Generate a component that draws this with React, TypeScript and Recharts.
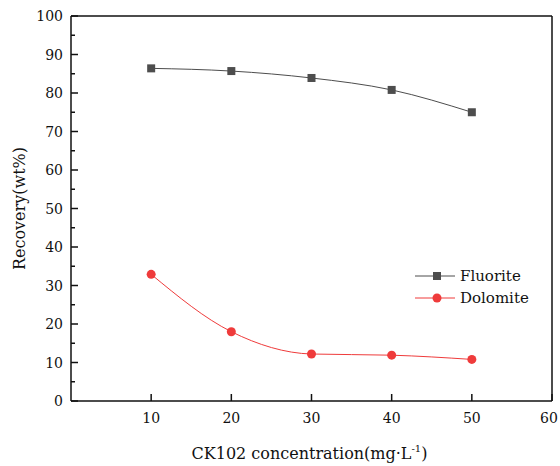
import { Line, LineChart, ReferenceLine, XAxis, YAxis } from "recharts";

const concentrations = [10, 20, 30, 40, 50];
const fluorite = [86.4, 85.7, 83.9, 80.8, 75.0];
const dolomite = [32.9, 18.0, 12.2, 11.9, 10.8];
const xTicks = [10, 20, 30, 40, 50, 60];
const yTicks = [0, 5, 10, 15, 20, 25, 30, 35, 40, 45, 50, 55, 60, 65, 70, 75, 80, 85, 90, 95, 100];

const data = concentrations.map((c, i) => ({
  c,
  fluorite: fluorite[i],
  dolomite: dolomite[i],
}));

const FONT = "DejaVu Serif";
const GRAY = "#4d4d4d";
const RED = "#ef3b3b";
const AXIS_LEFT = 71;
const AXIS_BOTTOM = 401;
const txt = { fontFamily: FONT, fontSize: 15, fill: "#111" };
const tickTxt = { ...txt, fontSize: 14 };

const YTick = (props: any) => {
  const { y, payload } = props;
  const major = payload.value % 10 === 0;
  return (
    <g>
      <line
        x1={AXIS_LEFT}
        x2={AXIS_LEFT + (major ? 7 : 4)}
        y1={y}
        y2={y}
        stroke="#111"
        strokeWidth={1.5}
      />
      {major && (
        <text x={AXIS_LEFT - 8} y={y} dy={5} textAnchor="end" style={tickTxt}>
          {payload.value}
        </text>
      )}
    </g>
  );
};

const XTick = (props: any) => {
  const { x, payload } = props;
  return (
    <g>
      <line
        x1={x}
        x2={x}
        y1={AXIS_BOTTOM}
        y2={AXIS_BOTTOM - 7}
        stroke="#111"
        strokeWidth={1.5}
      />
      <text x={Math.min(x, 549)} y={AXIS_BOTTOM + 22} textAnchor="middle" style={tickTxt}>
        {payload.value}
      </text>
    </g>
  );
};

const XLabel = (props: any) => {
  const { viewBox } = props;
  const cx = viewBox.x + viewBox.width / 2;
  return (
    <text x={cx - 2} y={459} textAnchor="middle" style={{ ...txt, fontSize: 16 }}>
      CK102 concentration(mg·L
      <tspan dy={-7} fontSize={10}>
        -1
      </tspan>
      <tspan dy={7}>)</tspan>
    </text>
  );
};

const YLabel = (props: any) => {
  const { viewBox } = props;
  const cy = viewBox.y + viewBox.height / 2;
  return (
    <text
      x={25}
      y={cy}
      textAnchor="middle"
      transform={`rotate(-90 25 ${cy})`}
      style={{ ...txt, fontSize: 16 }}
    >
      Recovery(wt%)
    </text>
  );
};

const SquareDot = (props: any) => {
  const { cx, cy, index } = props;
  return <rect key={`sq-${index}`} x={cx - 4} y={cy - 4} width={8} height={8} fill={GRAY} />;
};

const RoundDot = (props: any) => {
  const { cx, cy, index } = props;
  return <circle key={`ci-${index}`} cx={cx} cy={cy} r={4.5} fill={RED} />;
};

const LegendBox = () => (
  <svg width={140} height={50} style={{ position: "absolute", left: 411, top: 265 }}>
    <line x1={4} x2={44} y1={11} y2={11} stroke={GRAY} strokeWidth={1} />
    <rect x={22} y={7} width={8} height={8} fill={GRAY} />
    <text x={49} y={16} style={txt}>
      Fluorite
    </text>
    <line x1={4} x2={44} y1={33} y2={33} stroke={RED} strokeWidth={1} />
    <circle cx={26} cy={33} r={4.5} fill={RED} />
    <text x={49} y={38} style={txt}>
      Dolomite
    </text>
  </svg>
);

export default function App() {
  return (
    <div style={{ position: "absolute", left: 0, top: 0, width: 560, height: 466, background: "#fff" }}>
      <LineChart
        width={560}
        height={466}
        data={data}
        margin={{ top: 16, right: 8, bottom: 0, left: 0 }}
      >
        <XAxis
          dataKey="c"
          type="number"
          domain={[0, 60]}
          ticks={xTicks}
          tickLine={false}
          tick={<XTick />}
          height={65}
          axisLine={{ stroke: "#111", strokeWidth: 1.5 }}
          label={<XLabel />}
        />
        <YAxis
          type="number"
          domain={[0, 100]}
          ticks={yTicks}
          interval={0}
          tickLine={false}
          tick={<YTick />}
          width={71}
          axisLine={{ stroke: "#111", strokeWidth: 1.5 }}
          label={<YLabel />}
        />
        <ReferenceLine y={100} stroke="#111" strokeWidth={1.5} />
        <ReferenceLine x={60} stroke="#111" strokeWidth={1.5} />
        <Line
          type="monotone"
          dataKey="fluorite"
          stroke={GRAY}
          strokeWidth={1}
          dot={<SquareDot />}
          activeDot={false}
          isAnimationActive={false}
        />
        <Line
          type="monotone"
          dataKey="dolomite"
          stroke={RED}
          strokeWidth={1}
          dot={<RoundDot />}
          activeDot={false}
          isAnimationActive={false}
        />
      </LineChart>
      <LegendBox />
    </div>
  );
}
